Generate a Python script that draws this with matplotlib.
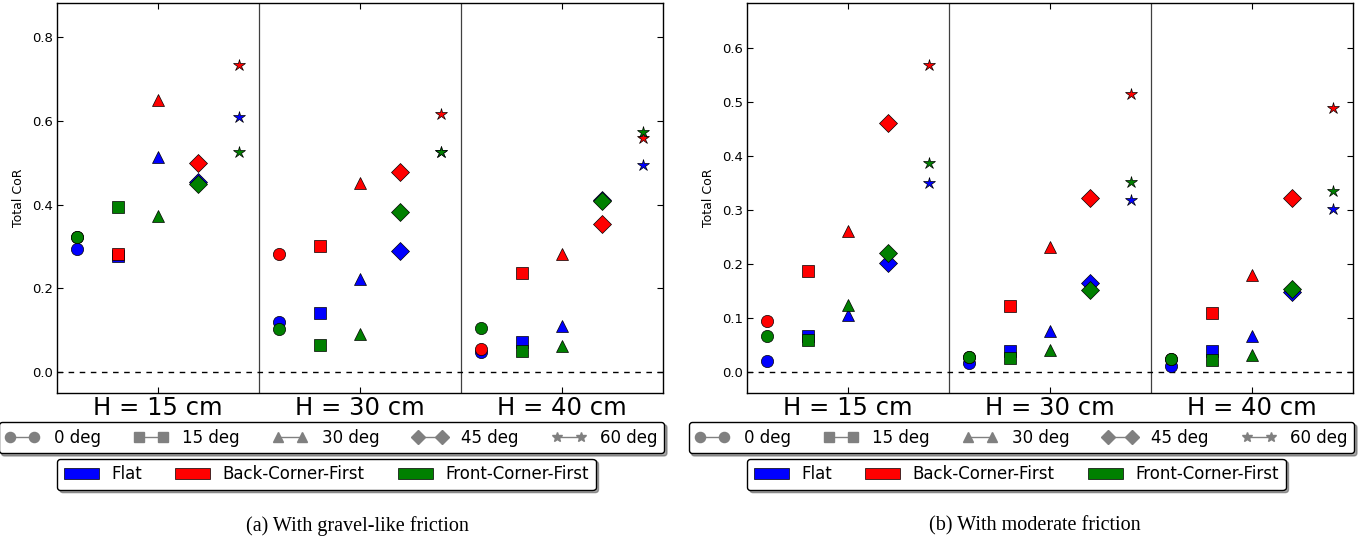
import matplotlib
matplotlib.use('Agg')
from matplotlib import pyplot as plt
from matplotlib.lines import Line2D
from matplotlib.patches import Patch


# alturas de queda e ângulos de impacto
alturas = ['H = 15 cm', 'H = 30 cm', 'H = 40 cm']
angulos = ['0 deg', '15 deg', '30 deg', '45 deg', '60 deg']
marcadores = ['o', 's', '^', 'D', '*']
orientacoes = ['Flat', 'Back-Corner-First', 'Front-Corner-First']
cores = ['#0000ff', '#ff0000', '#008000']

# (a) atrito tipo cascalho -- uma linha por altura, uma coluna por ângulo
gravel_flat = [[0.293, 0.277, 0.513, 0.455, 0.610],
               [0.120, 0.142, 0.223, 0.289, 0.525],
               [0.048, 0.073, 0.110, 0.412, 0.495]]
gravel_back = [[0.322, 0.283, 0.650, 0.499, 0.735],
               [0.281, 0.301, 0.453, 0.477, 0.617],
               [0.055, 0.237, 0.283, 0.355, 0.559]]
gravel_front = [[0.322, 0.394, 0.372, 0.449, 0.525],
                [0.102, 0.065, 0.090, 0.383, 0.525],
                [0.105, 0.051, 0.063, 0.408, 0.573]]

# (b) atrito moderado
moderate_flat = [[0.022, 0.068, 0.107, 0.203, 0.350],
                 [0.018, 0.039, 0.077, 0.165, 0.318],
                 [0.011, 0.039, 0.068, 0.148, 0.302]]
moderate_back = [[0.096, 0.187, 0.261, 0.462, 0.569],
                 [0.028, 0.122, 0.232, 0.322, 0.515],
                 [0.025, 0.110, 0.181, 0.322, 0.489]]
moderate_front = [[0.067, 0.060, 0.125, 0.221, 0.387],
                  [0.028, 0.027, 0.041, 0.153, 0.353],
                  [0.025, 0.023, 0.033, 0.154, 0.336]]

deslocamentos = [-0.4, -0.2, 0.0, 0.2, 0.4]


def plot_painel(ax, series, ylim, yticks):
    for valores, cor in zip(series, cores):
        for i in range(len(alturas)):
            for j, marcador in enumerate(marcadores):
                ax.plot(i + deslocamentos[j], valores[i][j], marker=marcador,
                        color=cor, mec='k', mew=0.5, ms=8.8, ls='none', zorder=3)
    ax.axhline(0, color='k', lw=1, dashes=(4, 4), zorder=2)
    for x in [0.5, 1.5]:
        ax.axvline(x, color='0.25', lw=0.9, zorder=1)
    ax.set_xlim(-0.5, 2.5)
    ax.set_ylim(*ylim)
    ax.set_yticks(yticks)
    ax.set_yticklabels([f'{t:.1f}' for t in yticks])
    ax.set_xticks(range(len(alturas)))
    ax.set_xticklabels(alturas)
    ax.tick_params(direction='in', top=True, right=True, length=4, width=0.8)
    ax.tick_params(axis='x', labelsize=17.5, pad=2)
    ax.tick_params(axis='y', labelsize=9.5, pad=3)
    ax.set_ylabel('Total CoR', fontsize=9, labelpad=5)
    for s in ax.spines.values():
        s.set_linewidth(1.0)

    # legenda dos ângulos (marcadores cinzas ligados por linha)
    marcas = [Line2D([0], [0], marker=m, color='gray', mfc='gray', mec='gray',
                     lw=1, ms=7.3) for m in marcadores]
    leg1 = ax.legend(marcas, angulos, ncol=5, numpoints=2, loc='upper right',
                     bbox_to_anchor=(1.002, -0.074), fontsize=12,
                     handlelength=2.05, handletextpad=0.85, columnspacing=2.0,
                     borderpad=0.4, borderaxespad=0, fancybox=True, shadow=True,
                     edgecolor='k', framealpha=1)
    leg1.get_frame().set_linewidth(1.0)
    ax.add_artist(leg1)
    # legenda das orientações
    caixas = [Patch(facecolor=c, edgecolor='k', lw=0.5) for c in cores]
    leg2 = ax.legend(caixas, orientacoes, ncol=3, loc='upper left',
                     bbox_to_anchor=(0.0, -0.168), fontsize=12,
                     handlelength=2.1, handleheight=0.7, handletextpad=0.75,
                     columnspacing=2.0, borderpad=0.4, borderaxespad=0,
                     fancybox=True, shadow=True, edgecolor='k', framealpha=1)
    leg2.get_frame().set_linewidth(1.0)


fig = plt.figure(figsize=(13.68, 5.45), dpi=100)
ax1 = fig.add_axes([57/1368, 152/545, 606/1368, 390/545])
ax2 = fig.add_axes([747/1368, 152/545, 606/1368, 390/545])

plot_painel(ax1, [gravel_flat, gravel_back, gravel_front],
            (-0.05, 0.882), [0.0, 0.2, 0.4, 0.6, 0.8])
plot_painel(ax2, [moderate_flat, moderate_back, moderate_front],
            (-0.038, 0.683), [0.0, 0.1, 0.2, 0.3, 0.4, 0.5, 0.6])

fig.text(357/1368, 1 - 526/545, '(a) With gravel-like friction',
         family='Liberation Serif', fontsize=14.5, ha='center', va='center')
fig.text(1035/1368, 1 - 526/545, '(b) With moderate friction',
         family='Liberation Serif', fontsize=14.5, ha='center', va='center')

fig.savefig('out.png', dpi=100)
